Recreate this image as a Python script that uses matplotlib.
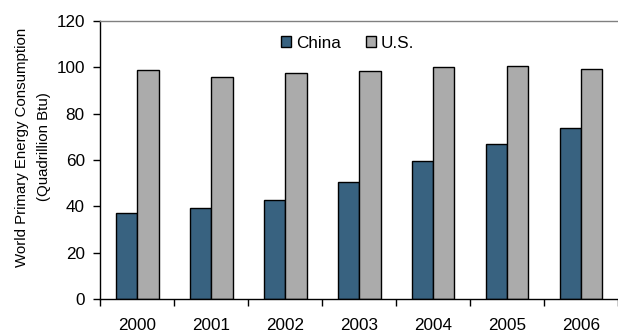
import matplotlib.pyplot as plt
import numpy as np

plt.rcParams['font.family'] = ['Liberation Sans', 'DejaVu Sans']

years = ['2000', '2001', '2002', '2003', '2004', '2005', '2006']
china = [37.2, 39.3, 42.9, 50.5, 59.7, 66.8, 74.0]
us = [98.8, 96.0, 97.7, 98.4, 100.0, 100.6, 99.4]

CHINA_COLOR = '#386280'
US_COLOR = '#ababab'

fig = plt.figure(figsize=(6.18, 3.33), dpi=100)
ax = fig.add_axes([0.162, 0.102, 0.838, 0.835])

x = np.arange(len(years))
w = 0.29
ax.bar(x - w / 2, china, w, color=CHINA_COLOR, edgecolor='black', linewidth=1.0, label='China')
ax.bar(x + w / 2, us, w, color=US_COLOR, edgecolor='black', linewidth=1.0, label='U.S.')

ax.set_xlim(-0.5, len(years) - 0.5)
ax.set_ylim(0, 120)
ax.set_yticks(range(0, 121, 20))

# category labels centred, tick marks on the boundaries between years
ax.set_xticks(x)
ax.set_xticklabels(years, fontsize=12.3)
ax.set_xticks(np.arange(-0.5, len(years), 1.0), minor=True)
ax.tick_params(axis='x', which='major', length=0, pad=13.5)
ax.tick_params(axis='x', which='minor', length=5, width=1, direction='out')
ax.tick_params(axis='y', length=5, width=1, direction='out', labelsize=12.3, pad=6)

ax.spines['right'].set_visible(False)
ax.spines['top'].set_color('#808080')
ax.spines['top'].set_linewidth(1.0)
ax.spines['left'].set_linewidth(1.0)
ax.spines['bottom'].set_linewidth(1.0)

ax.set_ylabel('World Primary Energy Consumption\n(Quadrillion Btu)', fontsize=10.8,
              linespacing=1.75)
ax.yaxis.set_label_coords(-0.095, 0.547)

ax.legend(loc='upper center', bbox_to_anchor=(0.478, 1.003), ncol=2, frameon=False,
          fontsize=12.3, handlelength=0.6, handleheight=0.6, handletextpad=0.25,
          columnspacing=1.5)

fig.savefig('out.png', dpi=100)
